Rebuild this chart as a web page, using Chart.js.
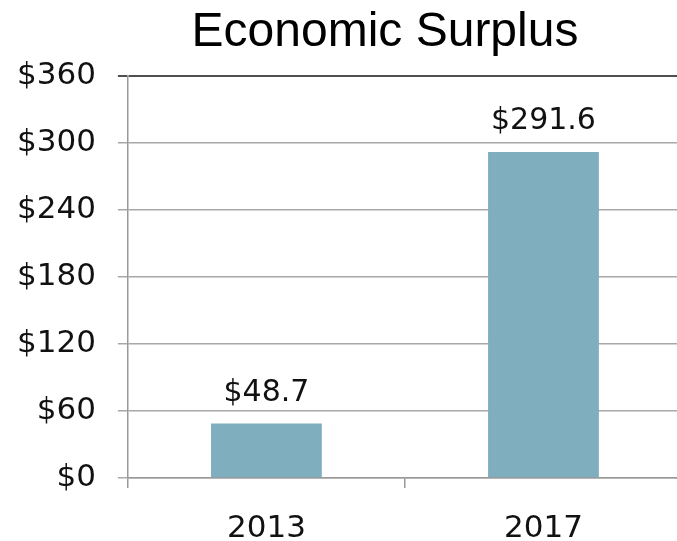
<!DOCTYPE html>
<html>
<head>
<meta charset="utf-8">
<script src="https://cdn.jsdelivr.net/npm/chart.js@4/dist/chart.umd.min.js"></script>
<style>
html,body{margin:0;padding:0;background:#fff;overflow:hidden;}
#wrap{width:677px;height:541px;overflow:hidden;position:relative;}
#box{width:688px;height:541px;position:absolute;left:0;top:0;}
</style>
</head>
<body>
<div id="wrap"><div id="box"><canvas id="c"></canvas></div></div>
<script>
const categories = ['2013', '2017'];
const surplusValues = [48.7, 291.6];
const dataLabels = ['$48.7', '$291.6'];
const titleText = 'Economic Surplus';

const tickFont = {family: '"DejaVu Sans", sans-serif', size: 31, lineHeight: 1};

const valueLabelPlugin = {
  id: 'valueLabels',
  afterLayout(chart) {
    const tb = chart.titleBlock;
    if (tb) {
      const w = tb.right - tb.left;
      tb.left = 385 - w / 2;
      tb.right = 385 + w / 2;
    }
  },
  afterDatasetsDraw(chart) {
    const ctx = chart.ctx;
    const meta = chart.getDatasetMeta(0);
    ctx.save();
    ctx.fillStyle = '#111';
    ctx.font = '30px "DejaVu Sans", sans-serif';
    ctx.textAlign = 'center';
    ctx.textBaseline = 'alphabetic';
    meta.data.forEach((bar, i) => {
      ctx.fillText(dataLabels[i], bar.x, bar.y - 23);
    });
    ctx.restore();
  }
};

new Chart(document.getElementById('c'), {
  type: 'bar',
  data: {
    labels: categories,
    datasets: [{
      data: surplusValues,
      backgroundColor: '#7FAFBF',
      borderWidth: 0,
      categoryPercentage: 0.8,
      barPercentage: 0.5
    }]
  },
  options: {
    responsive: true,
    maintainAspectRatio: false,
    animation: false,
    devicePixelRatio: 1,
    layout: {padding: {left: -5, right: 6, top: 0, bottom: -28}},
    plugins: {
      legend: {display: false},
      tooltip: {enabled: false},
      title: {
        display: true,
        text: titleText,
        color: '#000',
        font: {family: '"Liberation Sans", Arial, sans-serif', size: 48, weight: 'normal', lineHeight: 1.2},
        padding: {top: 4, bottom: 14}
      }
    },
    scales: {
      x: {
        grid: {
          display: true,
          drawOnChartArea: false,
          drawTicks: true,
          tickLength: 10,
          color: '#999',
          lineWidth: 1.5,
          offset: true
        },
        border: {display: true, color: '#999', width: 1.5},
        ticks: {color: '#111', font: tickFont, padding: 25}
      },
      y: {
        min: 0,
        max: 360,
        ticks: {
          stepSize: 60,
          color: '#111',
          font: tickFont,
          padding: 22,
          callback: v => '$' + v
        },
        grid: {
          color: ctx => (ctx.tick && ctx.tick.value === 360) ? '#505050' : '#A8A8A8',
          lineWidth: ctx => (ctx.tick && ctx.tick.value === 360) ? 2 : 1.5,
          tickLength: 10,
          drawTicks: true
        },
        border: {display: true, color: '#999', width: 1.5}
      }
    }
  },
  plugins: [valueLabelPlugin]
});
</script>
</body>
</html>
